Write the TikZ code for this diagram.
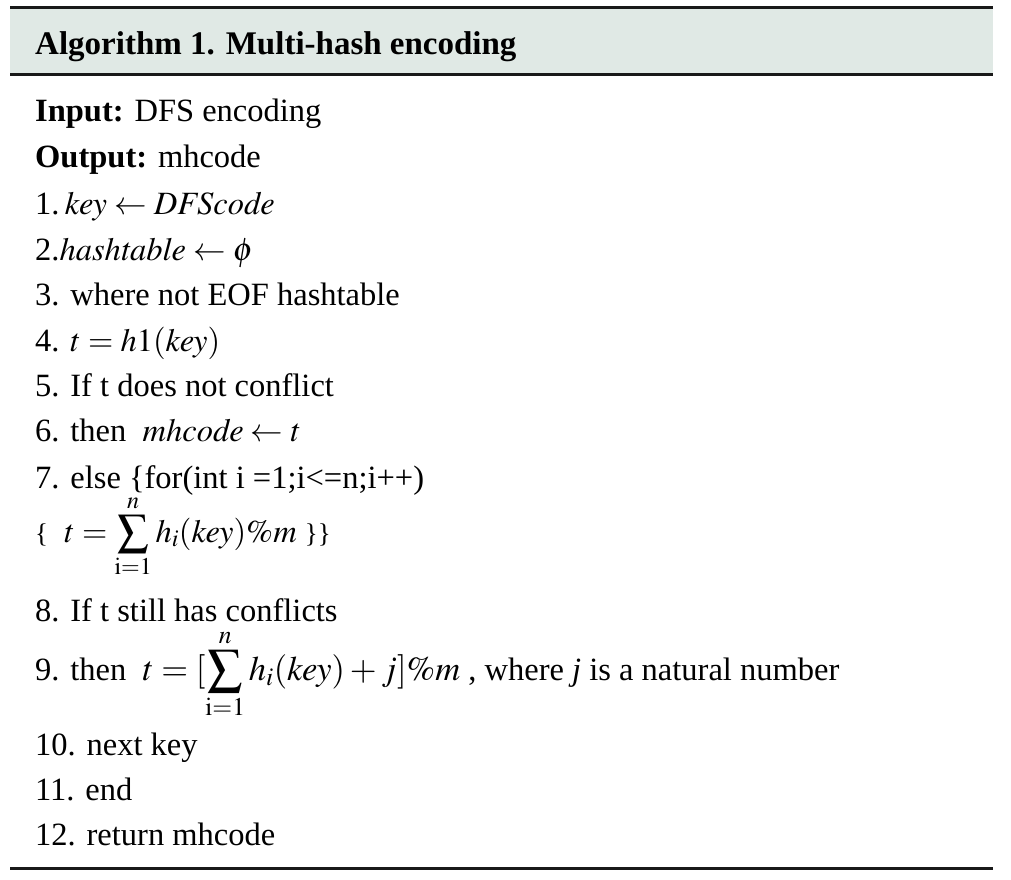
\documentclass[tikz,border=0pt]{standalone}
\usepackage{mathptmx}
\usepackage{fontspec}
\setmainfont{Liberation Serif}
\usetikzlibrary{positioning}
\definecolor{headcolor}{RGB}{224,233,229}
\newcommand{\smallbrace}[1]{{\fontsize{27}{32}\selectfont #1}}
\newcommand{\midsum}{\mathop{\vcenter{\hbox{\scalebox{0.95}{$\displaystyle\sum$}}}}\limits}

\begin{document}
\begin{tikzpicture}[x=1pt, y=-1pt,
        algline/.style={anchor=base west, inner sep=0pt, font=\fontsize{32.5}{38}\selectfont},
        headline/.style={anchor=base west, inner sep=0pt, font=\fontsize{33}{38}\selectfont\bfseries},
        rule/.style={line width=3pt, black!90}
    ]
        \useasboundingbox (0,0) rectangle (1011,879);

        % Header
        \fill[headcolor] (10,7) rectangle (993,74);
        \draw[rule] (10,7) -- (993,7);
        \draw[rule] (10,74) -- (993,74);
        \node[headline] (title) at (35,54) {Algorithm 1. Multi-hash encoding};

        % Input / Output
        \node[algline] (in) at (35,121) {\textbf{Input:} DFS encoding};
        \node[algline] (out) at (35,167) {\textbf{Output:} mhcode};

        % Steps
        \node[algline] (s1) at (35,214) {1.\,$\mathit{key} \leftarrow \mathit{DFScode}$};
        \node[algline] (s2) at (35,260) {2.$\mathit{hashtable} \leftarrow \phi$};
        \node[algline] (s3) at (35,305) {3. where not EOF hashtable};
        \node[algline] (s4) at (35,351) {4. $t = h1(\mathit{key})$};
        \node[algline] (s5) at (35,396) {5. If t does not conflict};
        \node[algline] (s6) at (35,441) {6. then \ $\mathit{mhcode} \leftarrow t$};
        \node[algline] (s7) at (35,488) {7. else \{for(int i =1;i<=n;i++)};
        \node[algline] (s7b) at (35,542) {\smallbrace{\{} \ $t = \midsum_{\mathrm{i=1}}^{n} h_i(\mathit{key})\%m$ \smallbrace{\}\}}};
        \node[algline] (s8) at (35,621) {8. If t still has conflicts};
        \node[algline] (s9) at (35,680) {9. then \ {\fontsize{34.5}{38}\selectfont$\displaystyle t =[\sum_{\mathrm{i=1}}^{n} h_i(\mathit{key})+ j]\%m$} , where \textit{j} is a natural number};
        \node[algline] (s10) at (35,755) {10. next key};
        \node[algline] (s11) at (35,800) {11. end};
        \node[algline] (s12) at (35,845) {12. return mhcode};

        % Bottom rule
        \draw[rule] (10,868) -- (993,868);

    \end{tikzpicture}
\end{document}
